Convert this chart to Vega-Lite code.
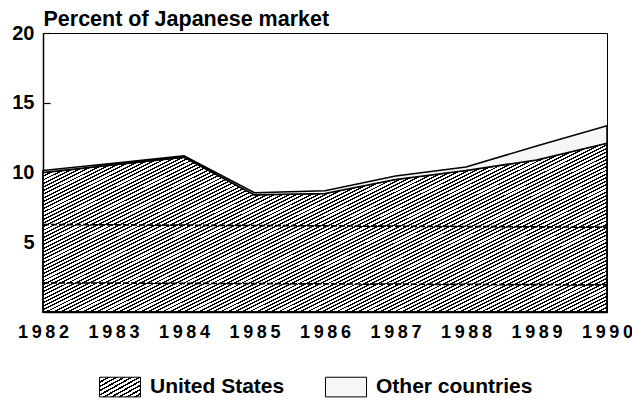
{
"$schema":"https://vega.github.io/schema/vega-lite/v6.json",
"width":564,"height":279,
"autosize":{"type":"none"},
"padding":{"left":43,"top":33,"right":25,"bottom":91},
"background":"#ffffff",
"config":{"view":{"stroke":"#000","strokeWidth":1},"font":"Liberation Sans","axis":{"labelFont":"Liberation Sans","titleFont":"Liberation Sans","labelColor":"#000","titleColor":"#000","domainColor":"#000","tickColor":"#000","grid":false}},
"datasets":{
"share":[
{"year":1982,"country":"United States","share":10.0},{"year":1982,"country":"Other countries","share":0.15},
{"year":1983,"country":"United States","share":10.55},{"year":1983,"country":"Other countries","share":0.12},
{"year":1984,"country":"United States","share":11.1},{"year":1984,"country":"Other countries","share":0.1},
{"year":1985,"country":"United States","share":8.4},{"year":1985,"country":"Other countries","share":0.15},
{"year":1986,"country":"United States","share":8.5},{"year":1986,"country":"Other countries","share":0.2},
{"year":1987,"country":"United States","share":9.5},{"year":1987,"country":"Other countries","share":0.25},
{"year":1988,"country":"United States","share":10.15},{"year":1988,"country":"Other countries","share":0.25},
{"year":1989,"country":"United States","share":10.9},{"year":1989,"country":"Other countries","share":1.0},
{"year":1990,"country":"United States","share":12.1},{"year":1990,"country":"Other countries","share":1.25}
],
"dashes":[{"xa":1982,"ya":6.27,"xb":1990,"yb":6.08},{"xa":1982,"ya":2.09,"xb":1990,"yb":1.94}]
},
"layer":[
{"data":{"name":"share"},
"transform":[{"stack":"share","groupby":["year"],"sort":[{"field":"country","order":"descending"}],"as":["lo","hi"]},{"filter":"datum.country === 'United States'"}],
"mark":{"type":"area","stroke":"#000","strokeWidth":1.8,"fill":{"gradient":"linear","x1":0,"y1":0,"x2":1.18,"y2":0.71,"stops":[
{"offset":0,"color":"#000"},{"offset":0.0032,"color":"#000"},{"offset":0.0032,"color":"#fff"},{"offset":0.008,"color":"#fff"},
{"offset":0.008,"color":"#000"},{"offset":0.0112,"color":"#000"},{"offset":0.0112,"color":"#fff"},{"offset":0.016,"color":"#fff"},
{"offset":0.016,"color":"#000"},{"offset":0.0192,"color":"#000"},{"offset":0.0192,"color":"#fff"},{"offset":0.024,"color":"#fff"},
{"offset":0.024,"color":"#000"},{"offset":0.0272,"color":"#000"},{"offset":0.0272,"color":"#fff"},{"offset":0.032,"color":"#fff"},
{"offset":0.032,"color":"#000"},{"offset":0.0352,"color":"#000"},{"offset":0.0352,"color":"#fff"},{"offset":0.04,"color":"#fff"},
{"offset":0.04,"color":"#000"},{"offset":0.0432,"color":"#000"},{"offset":0.0432,"color":"#fff"},{"offset":0.048,"color":"#fff"},
{"offset":0.048,"color":"#000"},{"offset":0.0512,"color":"#000"},{"offset":0.0512,"color":"#fff"},{"offset":0.056,"color":"#fff"},
{"offset":0.056,"color":"#000"},{"offset":0.0592,"color":"#000"},{"offset":0.0592,"color":"#fff"},{"offset":0.064,"color":"#fff"},
{"offset":0.064,"color":"#000"},{"offset":0.0672,"color":"#000"},{"offset":0.0672,"color":"#fff"},{"offset":0.072,"color":"#fff"},
{"offset":0.072,"color":"#000"},{"offset":0.0752,"color":"#000"},{"offset":0.0752,"color":"#fff"},{"offset":0.08,"color":"#fff"},
{"offset":0.08,"color":"#000"},{"offset":0.0832,"color":"#000"},{"offset":0.0832,"color":"#fff"},{"offset":0.088,"color":"#fff"},
{"offset":0.088,"color":"#000"},{"offset":0.0912,"color":"#000"},{"offset":0.0912,"color":"#fff"},{"offset":0.096,"color":"#fff"},
{"offset":0.096,"color":"#000"},{"offset":0.0992,"color":"#000"},{"offset":0.0992,"color":"#fff"},{"offset":0.104,"color":"#fff"},
{"offset":0.104,"color":"#000"},{"offset":0.1072,"color":"#000"},{"offset":0.1072,"color":"#fff"},{"offset":0.112,"color":"#fff"},
{"offset":0.112,"color":"#000"},{"offset":0.1152,"color":"#000"},{"offset":0.1152,"color":"#fff"},{"offset":0.12,"color":"#fff"},
{"offset":0.12,"color":"#000"},{"offset":0.1232,"color":"#000"},{"offset":0.1232,"color":"#fff"},{"offset":0.128,"color":"#fff"},
{"offset":0.128,"color":"#000"},{"offset":0.1312,"color":"#000"},{"offset":0.1312,"color":"#fff"},{"offset":0.136,"color":"#fff"},
{"offset":0.136,"color":"#000"},{"offset":0.1392,"color":"#000"},{"offset":0.1392,"color":"#fff"},{"offset":0.144,"color":"#fff"},
{"offset":0.144,"color":"#000"},{"offset":0.1472,"color":"#000"},{"offset":0.1472,"color":"#fff"},{"offset":0.152,"color":"#fff"},
{"offset":0.152,"color":"#000"},{"offset":0.1552,"color":"#000"},{"offset":0.1552,"color":"#fff"},{"offset":0.16,"color":"#fff"},
{"offset":0.16,"color":"#000"},{"offset":0.1632,"color":"#000"},{"offset":0.1632,"color":"#fff"},{"offset":0.168,"color":"#fff"},
{"offset":0.168,"color":"#000"},{"offset":0.1712,"color":"#000"},{"offset":0.1712,"color":"#fff"},{"offset":0.176,"color":"#fff"},
{"offset":0.176,"color":"#000"},{"offset":0.1792,"color":"#000"},{"offset":0.1792,"color":"#fff"},{"offset":0.184,"color":"#fff"},
{"offset":0.184,"color":"#000"},{"offset":0.1872,"color":"#000"},{"offset":0.1872,"color":"#fff"},{"offset":0.192,"color":"#fff"},
{"offset":0.192,"color":"#000"},{"offset":0.1952,"color":"#000"},{"offset":0.1952,"color":"#fff"},{"offset":0.2,"color":"#fff"},
{"offset":0.2,"color":"#000"},{"offset":0.2032,"color":"#000"},{"offset":0.2032,"color":"#fff"},{"offset":0.208,"color":"#fff"},
{"offset":0.208,"color":"#000"},{"offset":0.2112,"color":"#000"},{"offset":0.2112,"color":"#fff"},{"offset":0.216,"color":"#fff"},
{"offset":0.216,"color":"#000"},{"offset":0.2192,"color":"#000"},{"offset":0.2192,"color":"#fff"},{"offset":0.224,"color":"#fff"},
{"offset":0.224,"color":"#000"},{"offset":0.2272,"color":"#000"},{"offset":0.2272,"color":"#fff"},{"offset":0.232,"color":"#fff"},
{"offset":0.232,"color":"#000"},{"offset":0.2352,"color":"#000"},{"offset":0.2352,"color":"#fff"},{"offset":0.24,"color":"#fff"},
{"offset":0.24,"color":"#000"},{"offset":0.2432,"color":"#000"},{"offset":0.2432,"color":"#fff"},{"offset":0.248,"color":"#fff"},
{"offset":0.248,"color":"#000"},{"offset":0.2512,"color":"#000"},{"offset":0.2512,"color":"#fff"},{"offset":0.256,"color":"#fff"},
{"offset":0.256,"color":"#000"},{"offset":0.2592,"color":"#000"},{"offset":0.2592,"color":"#fff"},{"offset":0.264,"color":"#fff"},
{"offset":0.264,"color":"#000"},{"offset":0.2672,"color":"#000"},{"offset":0.2672,"color":"#fff"},{"offset":0.272,"color":"#fff"},
{"offset":0.272,"color":"#000"},{"offset":0.2752,"color":"#000"},{"offset":0.2752,"color":"#fff"},{"offset":0.28,"color":"#fff"},
{"offset":0.28,"color":"#000"},{"offset":0.2832,"color":"#000"},{"offset":0.2832,"color":"#fff"},{"offset":0.288,"color":"#fff"},
{"offset":0.288,"color":"#000"},{"offset":0.2912,"color":"#000"},{"offset":0.2912,"color":"#fff"},{"offset":0.296,"color":"#fff"},
{"offset":0.296,"color":"#000"},{"offset":0.2992,"color":"#000"},{"offset":0.2992,"color":"#fff"},{"offset":0.304,"color":"#fff"},
{"offset":0.304,"color":"#000"},{"offset":0.3072,"color":"#000"},{"offset":0.3072,"color":"#fff"},{"offset":0.312,"color":"#fff"},
{"offset":0.312,"color":"#000"},{"offset":0.3152,"color":"#000"},{"offset":0.3152,"color":"#fff"},{"offset":0.32,"color":"#fff"},
{"offset":0.32,"color":"#000"},{"offset":0.3232,"color":"#000"},{"offset":0.3232,"color":"#fff"},{"offset":0.328,"color":"#fff"},
{"offset":0.328,"color":"#000"},{"offset":0.3312,"color":"#000"},{"offset":0.3312,"color":"#fff"},{"offset":0.336,"color":"#fff"},
{"offset":0.336,"color":"#000"},{"offset":0.3392,"color":"#000"},{"offset":0.3392,"color":"#fff"},{"offset":0.344,"color":"#fff"},
{"offset":0.344,"color":"#000"},{"offset":0.3472,"color":"#000"},{"offset":0.3472,"color":"#fff"},{"offset":0.352,"color":"#fff"},
{"offset":0.352,"color":"#000"},{"offset":0.3552,"color":"#000"},{"offset":0.3552,"color":"#fff"},{"offset":0.36,"color":"#fff"},
{"offset":0.36,"color":"#000"},{"offset":0.3632,"color":"#000"},{"offset":0.3632,"color":"#fff"},{"offset":0.368,"color":"#fff"},
{"offset":0.368,"color":"#000"},{"offset":0.3712,"color":"#000"},{"offset":0.3712,"color":"#fff"},{"offset":0.376,"color":"#fff"},
{"offset":0.376,"color":"#000"},{"offset":0.3792,"color":"#000"},{"offset":0.3792,"color":"#fff"},{"offset":0.384,"color":"#fff"},
{"offset":0.384,"color":"#000"},{"offset":0.3872,"color":"#000"},{"offset":0.3872,"color":"#fff"},{"offset":0.392,"color":"#fff"},
{"offset":0.392,"color":"#000"},{"offset":0.3952,"color":"#000"},{"offset":0.3952,"color":"#fff"},{"offset":0.4,"color":"#fff"},
{"offset":0.4,"color":"#000"},{"offset":0.4032,"color":"#000"},{"offset":0.4032,"color":"#fff"},{"offset":0.408,"color":"#fff"},
{"offset":0.408,"color":"#000"},{"offset":0.4112,"color":"#000"},{"offset":0.4112,"color":"#fff"},{"offset":0.416,"color":"#fff"},
{"offset":0.416,"color":"#000"},{"offset":0.4192,"color":"#000"},{"offset":0.4192,"color":"#fff"},{"offset":0.424,"color":"#fff"},
{"offset":0.424,"color":"#000"},{"offset":0.4272,"color":"#000"},{"offset":0.4272,"color":"#fff"},{"offset":0.432,"color":"#fff"},
{"offset":0.432,"color":"#000"},{"offset":0.4352,"color":"#000"},{"offset":0.4352,"color":"#fff"},{"offset":0.44,"color":"#fff"},
{"offset":0.44,"color":"#000"},{"offset":0.4432,"color":"#000"},{"offset":0.4432,"color":"#fff"},{"offset":0.448,"color":"#fff"},
{"offset":0.448,"color":"#000"},{"offset":0.4512,"color":"#000"},{"offset":0.4512,"color":"#fff"},{"offset":0.456,"color":"#fff"},
{"offset":0.456,"color":"#000"},{"offset":0.4592,"color":"#000"},{"offset":0.4592,"color":"#fff"},{"offset":0.464,"color":"#fff"},
{"offset":0.464,"color":"#000"},{"offset":0.4672,"color":"#000"},{"offset":0.4672,"color":"#fff"},{"offset":0.472,"color":"#fff"},
{"offset":0.472,"color":"#000"},{"offset":0.4752,"color":"#000"},{"offset":0.4752,"color":"#fff"},{"offset":0.48,"color":"#fff"},
{"offset":0.48,"color":"#000"},{"offset":0.4832,"color":"#000"},{"offset":0.4832,"color":"#fff"},{"offset":0.488,"color":"#fff"},
{"offset":0.488,"color":"#000"},{"offset":0.4912,"color":"#000"},{"offset":0.4912,"color":"#fff"},{"offset":0.496,"color":"#fff"},
{"offset":0.496,"color":"#000"},{"offset":0.4992,"color":"#000"},{"offset":0.4992,"color":"#fff"},{"offset":0.504,"color":"#fff"},
{"offset":0.504,"color":"#000"},{"offset":0.5072,"color":"#000"},{"offset":0.5072,"color":"#fff"},{"offset":0.512,"color":"#fff"},
{"offset":0.512,"color":"#000"},{"offset":0.5152,"color":"#000"},{"offset":0.5152,"color":"#fff"},{"offset":0.52,"color":"#fff"},
{"offset":0.52,"color":"#000"},{"offset":0.5232,"color":"#000"},{"offset":0.5232,"color":"#fff"},{"offset":0.528,"color":"#fff"},
{"offset":0.528,"color":"#000"},{"offset":0.5312,"color":"#000"},{"offset":0.5312,"color":"#fff"},{"offset":0.536,"color":"#fff"},
{"offset":0.536,"color":"#000"},{"offset":0.5392,"color":"#000"},{"offset":0.5392,"color":"#fff"},{"offset":0.544,"color":"#fff"},
{"offset":0.544,"color":"#000"},{"offset":0.5472,"color":"#000"},{"offset":0.5472,"color":"#fff"},{"offset":0.552,"color":"#fff"},
{"offset":0.552,"color":"#000"},{"offset":0.5552,"color":"#000"},{"offset":0.5552,"color":"#fff"},{"offset":0.56,"color":"#fff"},
{"offset":0.56,"color":"#000"},{"offset":0.5632,"color":"#000"},{"offset":0.5632,"color":"#fff"},{"offset":0.568,"color":"#fff"},
{"offset":0.568,"color":"#000"},{"offset":0.5712,"color":"#000"},{"offset":0.5712,"color":"#fff"},{"offset":0.576,"color":"#fff"},
{"offset":0.576,"color":"#000"},{"offset":0.5792,"color":"#000"},{"offset":0.5792,"color":"#fff"},{"offset":0.584,"color":"#fff"},
{"offset":0.584,"color":"#000"},{"offset":0.5872,"color":"#000"},{"offset":0.5872,"color":"#fff"},{"offset":0.592,"color":"#fff"},
{"offset":0.592,"color":"#000"},{"offset":0.5952,"color":"#000"},{"offset":0.5952,"color":"#fff"},{"offset":0.6,"color":"#fff"},
{"offset":0.6,"color":"#000"},{"offset":0.6032,"color":"#000"},{"offset":0.6032,"color":"#fff"},{"offset":0.608,"color":"#fff"},
{"offset":0.608,"color":"#000"},{"offset":0.6112,"color":"#000"},{"offset":0.6112,"color":"#fff"},{"offset":0.616,"color":"#fff"},
{"offset":0.616,"color":"#000"},{"offset":0.6192,"color":"#000"},{"offset":0.6192,"color":"#fff"},{"offset":0.624,"color":"#fff"},
{"offset":0.624,"color":"#000"},{"offset":0.6272,"color":"#000"},{"offset":0.6272,"color":"#fff"},{"offset":0.632,"color":"#fff"},
{"offset":0.632,"color":"#000"},{"offset":0.6352,"color":"#000"},{"offset":0.6352,"color":"#fff"},{"offset":0.64,"color":"#fff"},
{"offset":0.64,"color":"#000"},{"offset":0.6432,"color":"#000"},{"offset":0.6432,"color":"#fff"},{"offset":0.648,"color":"#fff"},
{"offset":0.648,"color":"#000"},{"offset":0.6512,"color":"#000"},{"offset":0.6512,"color":"#fff"},{"offset":0.656,"color":"#fff"},
{"offset":0.656,"color":"#000"},{"offset":0.6592,"color":"#000"},{"offset":0.6592,"color":"#fff"},{"offset":0.664,"color":"#fff"},
{"offset":0.664,"color":"#000"},{"offset":0.6672,"color":"#000"},{"offset":0.6672,"color":"#fff"},{"offset":0.672,"color":"#fff"},
{"offset":0.672,"color":"#000"},{"offset":0.6752,"color":"#000"},{"offset":0.6752,"color":"#fff"},{"offset":0.68,"color":"#fff"},
{"offset":0.68,"color":"#000"},{"offset":0.6832,"color":"#000"},{"offset":0.6832,"color":"#fff"},{"offset":0.688,"color":"#fff"},
{"offset":0.688,"color":"#000"},{"offset":0.6912,"color":"#000"},{"offset":0.6912,"color":"#fff"},{"offset":0.696,"color":"#fff"},
{"offset":0.696,"color":"#000"},{"offset":0.6992,"color":"#000"},{"offset":0.6992,"color":"#fff"},{"offset":0.704,"color":"#fff"},
{"offset":0.704,"color":"#000"},{"offset":0.7072,"color":"#000"},{"offset":0.7072,"color":"#fff"},{"offset":0.712,"color":"#fff"},
{"offset":0.712,"color":"#000"},{"offset":0.7152,"color":"#000"},{"offset":0.7152,"color":"#fff"},{"offset":0.72,"color":"#fff"},
{"offset":0.72,"color":"#000"},{"offset":0.7232,"color":"#000"},{"offset":0.7232,"color":"#fff"},{"offset":0.728,"color":"#fff"},
{"offset":0.728,"color":"#000"},{"offset":0.7312,"color":"#000"},{"offset":0.7312,"color":"#fff"},{"offset":0.736,"color":"#fff"},
{"offset":0.736,"color":"#000"},{"offset":0.7392,"color":"#000"},{"offset":0.7392,"color":"#fff"},{"offset":0.744,"color":"#fff"},
{"offset":0.744,"color":"#000"},{"offset":0.7472,"color":"#000"},{"offset":0.7472,"color":"#fff"},{"offset":0.752,"color":"#fff"},
{"offset":0.752,"color":"#000"},{"offset":0.7552,"color":"#000"},{"offset":0.7552,"color":"#fff"},{"offset":0.76,"color":"#fff"},
{"offset":0.76,"color":"#000"},{"offset":0.7632,"color":"#000"},{"offset":0.7632,"color":"#fff"},{"offset":0.768,"color":"#fff"},
{"offset":0.768,"color":"#000"},{"offset":0.7712,"color":"#000"},{"offset":0.7712,"color":"#fff"},{"offset":0.776,"color":"#fff"},
{"offset":0.776,"color":"#000"},{"offset":0.7792,"color":"#000"},{"offset":0.7792,"color":"#fff"},{"offset":0.784,"color":"#fff"},
{"offset":0.784,"color":"#000"},{"offset":0.7872,"color":"#000"},{"offset":0.7872,"color":"#fff"},{"offset":0.792,"color":"#fff"},
{"offset":0.792,"color":"#000"},{"offset":0.7952,"color":"#000"},{"offset":0.7952,"color":"#fff"},{"offset":0.8,"color":"#fff"},
{"offset":0.8,"color":"#000"},{"offset":0.8032,"color":"#000"},{"offset":0.8032,"color":"#fff"},{"offset":0.808,"color":"#fff"},
{"offset":0.808,"color":"#000"},{"offset":0.8112,"color":"#000"},{"offset":0.8112,"color":"#fff"},{"offset":0.816,"color":"#fff"},
{"offset":0.816,"color":"#000"},{"offset":0.8192,"color":"#000"},{"offset":0.8192,"color":"#fff"},{"offset":0.824,"color":"#fff"},
{"offset":0.824,"color":"#000"},{"offset":0.8272,"color":"#000"},{"offset":0.8272,"color":"#fff"},{"offset":0.832,"color":"#fff"},
{"offset":0.832,"color":"#000"},{"offset":0.8352,"color":"#000"},{"offset":0.8352,"color":"#fff"},{"offset":0.84,"color":"#fff"},
{"offset":0.84,"color":"#000"},{"offset":0.8432,"color":"#000"},{"offset":0.8432,"color":"#fff"},{"offset":0.848,"color":"#fff"},
{"offset":0.848,"color":"#000"},{"offset":0.8512,"color":"#000"},{"offset":0.8512,"color":"#fff"},{"offset":0.856,"color":"#fff"},
{"offset":0.856,"color":"#000"},{"offset":0.8592,"color":"#000"},{"offset":0.8592,"color":"#fff"},{"offset":0.864,"color":"#fff"},
{"offset":0.864,"color":"#000"},{"offset":0.8672,"color":"#000"},{"offset":0.8672,"color":"#fff"},{"offset":0.872,"color":"#fff"},
{"offset":0.872,"color":"#000"},{"offset":0.8752,"color":"#000"},{"offset":0.8752,"color":"#fff"},{"offset":0.88,"color":"#fff"},
{"offset":0.88,"color":"#000"},{"offset":0.8832,"color":"#000"},{"offset":0.8832,"color":"#fff"},{"offset":0.888,"color":"#fff"},
{"offset":0.888,"color":"#000"},{"offset":0.8912,"color":"#000"},{"offset":0.8912,"color":"#fff"},{"offset":0.896,"color":"#fff"},
{"offset":0.896,"color":"#000"},{"offset":0.8992,"color":"#000"},{"offset":0.8992,"color":"#fff"},{"offset":0.904,"color":"#fff"},
{"offset":0.904,"color":"#000"},{"offset":0.9072,"color":"#000"},{"offset":0.9072,"color":"#fff"},{"offset":0.912,"color":"#fff"},
{"offset":0.912,"color":"#000"},{"offset":0.9152,"color":"#000"},{"offset":0.9152,"color":"#fff"},{"offset":0.92,"color":"#fff"},
{"offset":0.92,"color":"#000"},{"offset":0.9232,"color":"#000"},{"offset":0.9232,"color":"#fff"},{"offset":0.928,"color":"#fff"},
{"offset":0.928,"color":"#000"},{"offset":0.9312,"color":"#000"},{"offset":0.9312,"color":"#fff"},{"offset":0.936,"color":"#fff"},
{"offset":0.936,"color":"#000"},{"offset":0.9392,"color":"#000"},{"offset":0.9392,"color":"#fff"},{"offset":0.944,"color":"#fff"},
{"offset":0.944,"color":"#000"},{"offset":0.9472,"color":"#000"},{"offset":0.9472,"color":"#fff"},{"offset":0.952,"color":"#fff"},
{"offset":0.952,"color":"#000"},{"offset":0.9552,"color":"#000"},{"offset":0.9552,"color":"#fff"},{"offset":0.96,"color":"#fff"},
{"offset":0.96,"color":"#000"},{"offset":0.9632,"color":"#000"},{"offset":0.9632,"color":"#fff"},{"offset":0.968,"color":"#fff"},
{"offset":0.968,"color":"#000"},{"offset":0.9712,"color":"#000"},{"offset":0.9712,"color":"#fff"},{"offset":0.976,"color":"#fff"},
{"offset":0.976,"color":"#000"},{"offset":0.9792,"color":"#000"},{"offset":0.9792,"color":"#fff"},{"offset":0.984,"color":"#fff"},
{"offset":0.984,"color":"#000"},{"offset":0.9872,"color":"#000"},{"offset":0.9872,"color":"#fff"},{"offset":0.992,"color":"#fff"},
{"offset":0.992,"color":"#000"},{"offset":0.9952,"color":"#000"},{"offset":0.9952,"color":"#fff"},{"offset":1,"color":"#fff"}
]}},
"encoding":{
"x":{"field":"year","type":"quantitative","title":null,"scale":{"domain":[1982,1990],"nice":false,"zero":false},
"axis":{"values":[1982,1983,1984,1985,1986,1987,1988,1989,1990],"format":"d","labelExpr":"replace(datum.label, /(\\d)(?=\\d)/g, '$1\u2009')","ticks":false,"labelPadding":11,"labelFontSize":18,"labelFontWeight":"bold","labelFlush":false,"labelOverlap":false,"domainWidth":1.5}},
"y":{"field":"hi","type":"quantitative","title":"Percent of Japanese market","scale":{"domain":[0,20],"nice":false},
"axis":{"values":[5,10,15,20],"tickSize":-7,"tickWidth":1.2,"labelPadding":16,"labelFontSize":20,"labelFontWeight":"bold","domainWidth":1.5,"titleAngle":0,"titleAlign":"left","titleBaseline":"alphabetic","titleX":0,"titleY":-8,"titleFontSize":21.5,"titleFontWeight":"bold"}},
"y2":{"field":"lo"}
}},
{"data":{"name":"share"},
"transform":[{"stack":"share","groupby":["year"],"sort":[{"field":"country","order":"descending"}],"as":["lo","hi"]},{"filter":"datum.country === 'Other countries'"}],
"mark":{"type":"area","fill":"#f6f6f6","stroke":"#000","strokeWidth":1.5},
"encoding":{
"x":{"field":"year","type":"quantitative","title":null},
"y":{"field":"hi","type":"quantitative","title":"Percent of Japanese market"},
"y2":{"field":"lo"}
}},
{"data":{"name":"dashes"},
"mark":{"type":"rule","stroke":"#000","strokeWidth":1.7,"strokeDash":[6,2]},
"encoding":{
"x":{"field":"xa","type":"quantitative","title":null},
"y":{"field":"ya","type":"quantitative","title":"Percent of Japanese market"},
"x2":{"field":"xb"},
"y2":{"field":"yb"}
}},
{"data":{"name":"share"},
"mark":{"type":"point","filled":true,"opacity":0,"stroke":"#000","strokeWidth":1},
"encoding":{
"x":{"field":"year","type":"quantitative","title":null},
"y":{"field":"share","type":"quantitative","title":"Percent of Japanese market"},
"color":{"field":"country","type":"nominal","scale":{"domain":["United States","Other countries"],"range":[{"expr":"{gradient: 'linear', x1: 0, y1: 0, x2: 1.07, y2: 0.93, stops: [{offset: 0, color: '#000'}, {offset: 0.04, color: '#000'}, {offset: 0.04, color: '#fff'}, {offset: 0.1, color: '#fff'}, {offset: 0.1, color: '#000'}, {offset: 0.14, color: '#000'}, {offset: 0.14, color: '#fff'}, {offset: 0.2, color: '#fff'}, {offset: 0.2, color: '#000'}, {offset: 0.24, color: '#000'}, {offset: 0.24, color: '#fff'}, {offset: 0.3, color: '#fff'}, {offset: 0.3, color: '#000'}, {offset: 0.34, color: '#000'}, {offset: 0.34, color: '#fff'}, {offset: 0.4, color: '#fff'}, {offset: 0.4, color: '#000'}, {offset: 0.44, color: '#000'}, {offset: 0.44, color: '#fff'}, {offset: 0.5, color: '#fff'}, {offset: 0.5, color: '#000'}, {offset: 0.54, color: '#000'}, {offset: 0.54, color: '#fff'}, {offset: 0.6, color: '#fff'}, {offset: 0.6, color: '#000'}, {offset: 0.64, color: '#000'}, {offset: 0.64, color: '#fff'}, {offset: 0.7, color: '#fff'}, {offset: 0.7, color: '#000'}, {offset: 0.74, color: '#000'}, {offset: 0.74, color: '#fff'}, {offset: 0.8, color: '#fff'}, {offset: 0.8, color: '#000'}, {offset: 0.84, color: '#000'}, {offset: 0.84, color: '#fff'}, {offset: 0.9, color: '#fff'}, {offset: 0.9, color: '#000'}, {offset: 0.94, color: '#000'}, {offset: 0.94, color: '#fff'}, {offset: 1, color: '#fff'}]}"},"#f6f6f6"]},
"legend":{"orient":"none","legendX":56,"legendY":333,"direction":"horizontal","title":null,"padding":0,
"symbolType":"M-1,-0.48H1V0.48H-1Z","symbolSize":1681,"symbolStrokeColor":"#000","symbolStrokeWidth":1,"symbolOpacity":1,
"labelFont":"Liberation Sans","labelFontSize":21,"labelFontWeight":"bold","labelColor":"#000","labelOffset":9,"labelLimit":400,"columnPadding":38}}
}}
]
}
